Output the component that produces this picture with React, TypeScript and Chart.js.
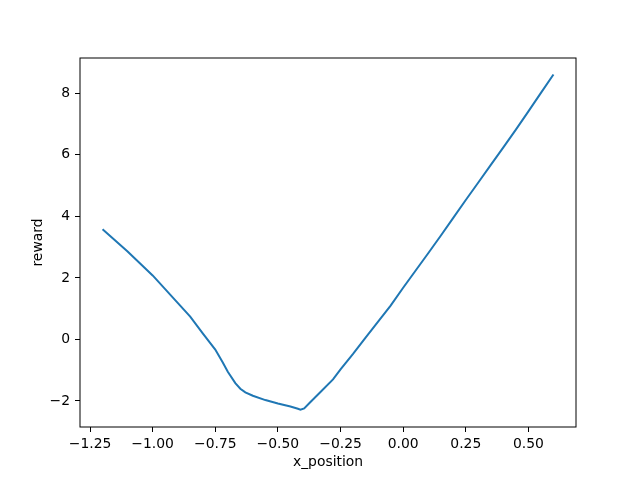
import React, { useEffect, useRef } from "react";
import { Chart, registerables } from "chart.js";

Chart.register(...registerables);

const xPositions: number[] = [
  -1.2, -1.1, -1.0, -0.9, -0.85, -0.8, -0.75, -0.72, -0.7, -0.67, -0.65, -0.63,
  -0.6, -0.55, -0.5, -0.45, -0.42, -0.41, -0.395, -0.372, -0.33, -0.28, -0.25,
  -0.2, -0.15, -0.1, -0.05, 0.0, 0.05, 0.1, 0.15, 0.2, 0.25, 0.3, 0.35, 0.4,
  0.45, 0.5, 0.55, 0.6,
];
const rewards: number[] = [
  3.58, 2.86, 2.08, 1.19, 0.74, 0.2, -0.33, -0.75, -1.05, -1.42, -1.6, -1.72,
  -1.83, -1.97, -2.08, -2.18, -2.25, -2.28, -2.24, -2.05, -1.71, -1.3, -0.97,
  -0.47, 0.06, 0.58, 1.1, 1.68, 2.24, 2.8, 3.37, 3.95, 4.53, 5.1, 5.67, 6.24,
  6.82, 7.41, 8.01, 8.61,
];
const xTicks: number[] = [-1.25, -1.0, -0.75, -0.5, -0.25, 0.0, 0.25, 0.5];
const yTicks: number[] = [-2, 0, 2, 4, 6, 8];
const xLabel = "x_position";
const yLabel = "reward";

const FONT = { family: "'DejaVu Sans', sans-serif", size: 13.9 };

const fmtX = (v: number) => v.toFixed(2).replace("-", "\u2212");
const fmtY = (v: number) => String(v).replace("-", "\u2212");

const boxPlugin = {
  id: "boxPlugin",
  afterDraw(chart: any) {
    const { ctx, chartArea } = chart;
    ctx.save();
    ctx.strokeStyle = "#000";
    ctx.lineWidth = 1;
    ctx.strokeRect(
      chartArea.left,
      chartArea.top,
      chartArea.right - chartArea.left,
      chartArea.bottom - chartArea.top
    );
    ctx.restore();
  },
};

export default function App() {
  const ref = useRef<HTMLCanvasElement | null>(null);

  useEffect(() => {
    if (!ref.current) return;
    const points = xPositions.map((x, i) => ({ x, y: rewards[i] }));
    const chart = new Chart(ref.current, {
      type: "line",
      data: {
        datasets: [
          {
            data: points,
            borderColor: "#1f77b4",
            borderWidth: 2,
            pointRadius: 0,
            tension: 0,
            fill: false,
          },
        ],
      },
      options: {
        animation: false,
        responsive: false,
        devicePixelRatio: 1,
        layout: { padding: { left: 0, right: 64, top: 58, bottom: 0 } },
        plugins: { legend: { display: false }, tooltip: { enabled: false } },
        scales: {
          x: {
            type: "linear",
            min: -1.29,
            max: 0.69,
            afterBuildTicks: (scale: any) => {
              scale.ticks = xTicks.map((v) => ({ value: v }));
            },
            afterFit: (scale: any) => {
              scale.height = 53;
            },
            grid: {
              display: true,
              drawOnChartArea: false,
              drawTicks: true,
              tickLength: 5,
              color: "#000",
              lineWidth: 1,
            },
            border: { display: false },
            ticks: {
              color: "#000",
              font: FONT,
              padding: 4,
              maxRotation: 0,
              autoSkip: false,
              callback: (v: any) => fmtX(Number(v)),
            },
            title: {
              display: true,
              text: xLabel,
              color: "#000",
              font: FONT,
              padding: { top: 0, bottom: 9.5 },
            },
          },
          y: {
            type: "linear",
            min: -2.845,
            max: 9.145,
            afterBuildTicks: (scale: any) => {
              scale.ticks = yTicks.map((v) => ({ value: v }));
            },
            afterFit: (scale: any) => {
              scale.width = 80;
            },
            grid: {
              display: true,
              drawOnChartArea: false,
              drawTicks: true,
              tickLength: 5,
              color: "#000",
              lineWidth: 1,
            },
            border: { display: false },
            ticks: {
              color: "#000",
              font: FONT,
              padding: 5,
              autoSkip: false,
              callback: (v: any) => fmtY(Number(v)),
            },
            title: {
              display: true,
              text: yLabel,
              color: "#000",
              font: FONT,
              padding: { top: 29.6, bottom: 0 },
            },
          },
        },
      },
      plugins: [boxPlugin],
    });
    return () => chart.destroy();
  }, []);

  return (
    <div style={{ position: "absolute", left: 0, top: 0, width: 640, height: 480, background: "#fff" }}>
      <canvas ref={ref} width={640} height={480} style={{ width: 640, height: 480, display: "block" }} />
    </div>
  );
}
